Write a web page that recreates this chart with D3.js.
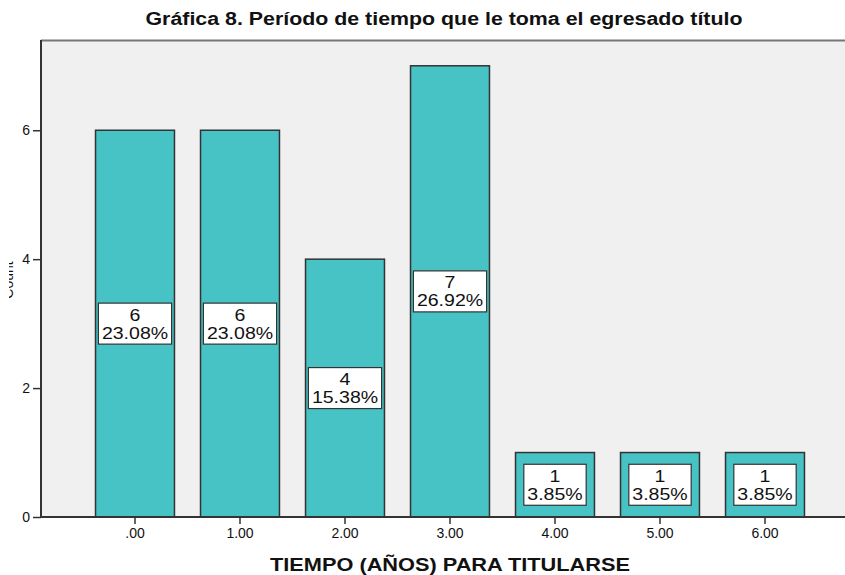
<!DOCTYPE html>
<html><head><meta charset="utf-8">
<script src="https://cdn.jsdelivr.net/npm/d3@7"></script>
<style>body{margin:0;background:#fff}svg{display:block;font-family:"Liberation Sans",Arial,sans-serif}</style>
</head><body>
<svg id="c" width="845" height="575"></svg>
<script>
const categories = [".00","1.00","2.00","3.00","4.00","5.00","6.00"];
const counts = [6,6,4,7,1,1,1];
const percents = ["23.08%","23.08%","15.38%","26.92%","3.85%","3.85%","3.85%"];
const yTicks = [0,2,4,6];
const title = "Gráfica 8. Período de tiempo que le toma el egresado título";
const xTitle = "TIEMPO (AÑOS) PARA TITULARSE";
const yTitle = "Count";

const svg = d3.select("#c");
const pLeft = 41, pTop = 40, pBottom = 517, pRight = 850;
const x = d3.scaleBand().domain(categories).range([82.5, 817.5]).paddingInner(0.248).paddingOuter(0.124);
const y = d3.scaleLinear().domain([0, 7.4]).range([pBottom, pTop]);

function stretch(t, f) {
  const w = t.node().getComputedTextLength();
  t.attr("textLength", w * f).attr("lengthAdjust", "spacingAndGlyphs");
  return w * f;
}

// plot background
svg.append("rect").attr("x", pLeft).attr("y", pTop).attr("width", pRight-pLeft).attr("height", pBottom-pTop)
  .attr("fill", "#f0f0f0");
svg.append("line").attr("x1", pLeft).attr("x2", pRight).attr("y1", pTop+0.5).attr("y2", pTop+0.5)
  .attr("stroke", "#777").attr("stroke-width", 2);

// bars
svg.append("g").selectAll("rect").data(categories).join("rect")
  .attr("x", d => x(d)).attr("y", (d,i) => y(counts[i]))
  .attr("width", x.bandwidth()).attr("height", (d,i) => pBottom - y(counts[i]))
  .attr("fill", "#47c3c6").attr("stroke", "#333").attr("stroke-width", 1.5);

// labels
const lg = svg.append("g").selectAll("g").data(categories).join("g")
  .attr("transform", (d,i) => `translate(${x(d)+x.bandwidth()/2},${y(counts[i]/2)})`);
lg.each(function(d,i){
  const g = d3.select(this);
  const rect = g.append("rect");
  const t1 = g.append("text").attr("text-anchor","middle").attr("y",-3).attr("font-size",16).attr("fill","#111").text(counts[i]);
  const t2 = g.append("text").attr("text-anchor","middle").attr("y",15).attr("font-size",16).attr("fill","#111").text(percents[i]);
  const w1 = stretch(t1, 1.22), w2 = stretch(t2, 1.22);
  const w = Math.max(w1, w2) + 7;
  rect.attr("x", -w/2).attr("y", -20.5).attr("width", w).attr("height", 41)
    .attr("fill", "#fff").attr("stroke", "#333").attr("stroke-width", 1.2);
});

// y axis
const ya = svg.append("g").attr("transform", `translate(${pLeft},0)`)
  .call(d3.axisLeft(y).tickValues(yTicks).tickSize(8).tickPadding(3));
ya.select(".domain").attr("stroke", "#333").attr("stroke-width", 2).attr("d", `M0,${pTop}V${pBottom}`);
ya.selectAll(".tick line").attr("stroke", "#333").attr("stroke-width", 1.5);
ya.selectAll(".tick text").attr("font-size", 14).attr("fill", "#111").attr("font-family", "Liberation Sans, Arial, sans-serif");

// x axis
const xa = svg.append("g").attr("transform", `translate(0,${pBottom})`)
  .call(d3.axisBottom(x).tickSize(7).tickPadding(4));
xa.select(".domain").attr("stroke", "#333").attr("stroke-width", 2).attr("d", `M${pLeft},0H${pRight}`);
xa.selectAll(".tick line").attr("stroke", "#333").attr("stroke-width", 1.5);
xa.selectAll(".tick text").attr("font-size", 14).attr("fill", "#111").attr("font-family", "Liberation Sans, Arial, sans-serif");

// titles
svg.append("text").attr("x", 444).attr("y", 25).attr("text-anchor", "middle")
  .attr("font-size", 18).attr("font-weight", "bold").attr("fill", "#111").text(title)
  .attr("textLength", 597).attr("lengthAdjust", "spacingAndGlyphs");
svg.append("text").attr("x", 450).attr("y", 571).attr("text-anchor", "middle")
  .attr("font-size", 18).attr("font-weight", "bold").attr("fill", "#111").text(xTitle)
  .attr("textLength", 360).attr("lengthAdjust", "spacingAndGlyphs");

// y title, mostly cut off at the left edge as in the source image
svg.append("clipPath").attr("id", "yclip").append("rect").attr("x", 9).attr("y", 0).attr("width", 20).attr("height", 575);
svg.append("g").attr("clip-path", "url(#yclip)")
  .append("text").attr("transform", "translate(13,280) rotate(-90)").attr("text-anchor", "middle")
  .attr("font-size", 14).attr("fill", "#111").text(yTitle);
</script>
</body></html>
